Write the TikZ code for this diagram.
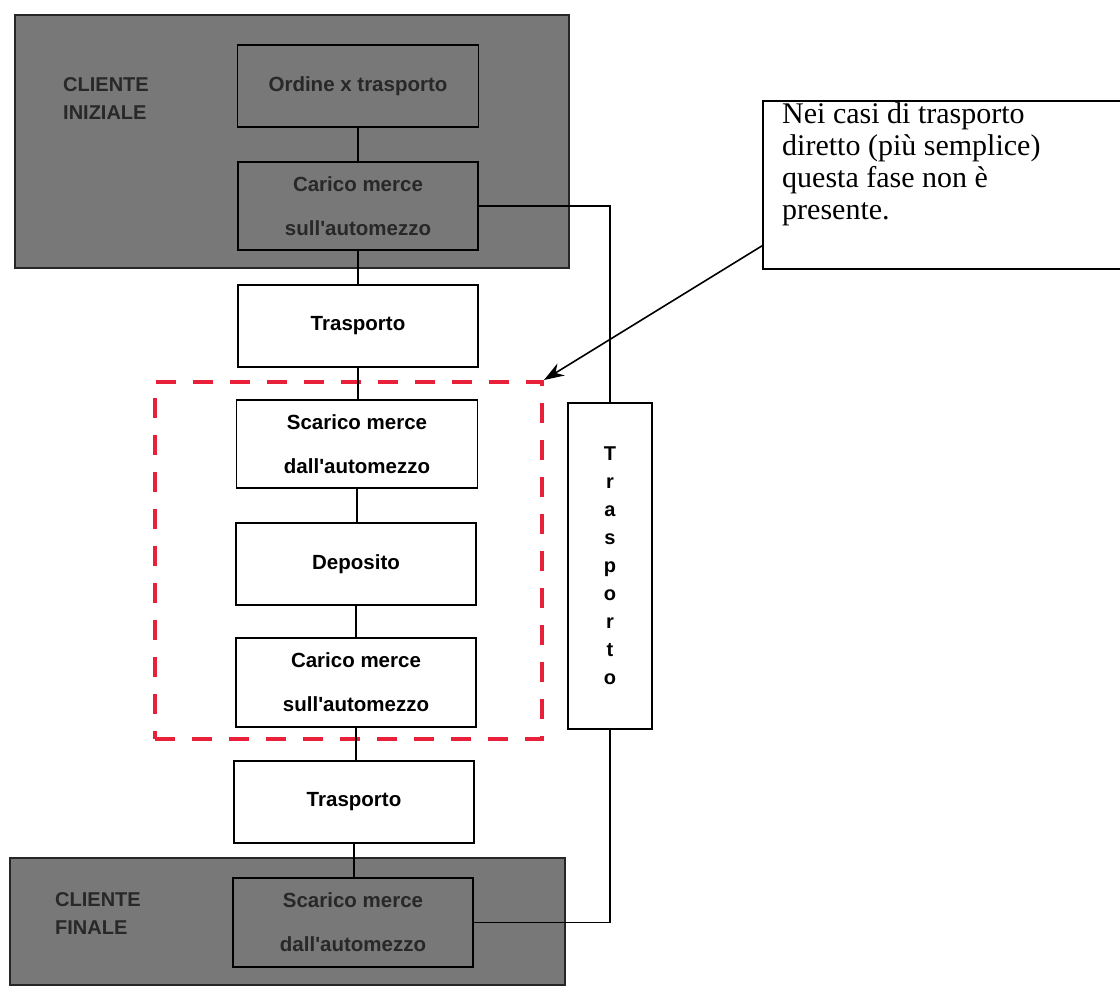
\documentclass[tikz,border=0pt]{standalone}
\usepackage{fontspec}
\setmainfont{Liberation Serif}
\newfontfamily\arialfont{Liberation Sans}
\usetikzlibrary{arrows.meta,calc}
\definecolor{shade}{RGB}{120,120,120}
\definecolor{shadetext}{RGB}{40,40,40}
\definecolor{dashred}{RGB}{232,32,58}
\begin{document}
\begin{tikzpicture}[x=1pt,y=-1pt,
  stepbox/.style={draw=black,line width=1.8pt,fill=white,rectangle,inner sep=0pt,
    font=\arialfont\bfseries\fontsize{20.5}{44}\selectfont,align=center},
  shadebox/.style={stepbox,fill=shade,text=shadetext},
  client/.style={draw=black!85,line width=2.6pt,fill=shade,rectangle,inner sep=0pt},
  clientlabel/.style={text=shadetext,font=\arialfont\bfseries\fontsize{20}{28}\selectfont,align=left,inner sep=0pt},
  link/.style={draw=black,line width=1.3pt}]
\useasboundingbox (0,0) rectangle (1120,994);
\fill[white] (0,0) rectangle (1120,994);

% initial client
\node[client,minimum width=554pt,minimum height=253pt] (gray1) at (292,141.5) {};
\node[clientlabel,anchor=west] (lab1) at (63,99) {CLIENTE\\INIZIALE};
\node[shadebox,minimum width=241pt,minimum height=82pt] (ordine) at (358,86) {Ordine x trasporto};
\node[shadebox,minimum width=240pt,minimum height=88pt] (carico1) at (358,206) {Carico merce\\sull'automezzo};

% chain
\node[stepbox,minimum width=240pt,minimum height=82pt] (t1) at (358,326) {Trasporto};
\node[stepbox,minimum width=241pt,minimum height=88pt] (scarico) at (357,444) {Scarico merce\\dall'automezzo};
\node[stepbox,minimum width=240pt,minimum height=82pt] (deposito) at (356,564) {Deposito};
\node[stepbox,minimum width=240pt,minimum height=89pt] (carico2) at (356,682.5) {Carico merce\\sull'automezzo};
\node[stepbox,minimum width=240pt,minimum height=82pt] (t2) at (354,802) {Trasporto};

% final client
\node[client,minimum width=555pt,minimum height=127pt] (gray2) at (287.5,921.5) {};
\node[clientlabel,anchor=west] (lab2) at (55,914) {CLIENTE\\FINALE};
\node[shadebox,minimum width=240pt,minimum height=89pt] (scarico2) at (353,922.5) {Scarico merce\\dall'automezzo};

% direct transport
\node[stepbox,minimum width=84pt,minimum height=326pt,font=\arialfont\bfseries\fontsize{20}{28}\selectfont] (vert) at (610,566) {T\\r\\a\\s\\p\\o\\r\\t\\o};

% dashed optional zone
\node[draw=dashred,line width=4pt,dash pattern=on 20pt off 17pt,rectangle,inner sep=0pt,
  minimum width=387pt,minimum height=357pt] (zone) at (348.5,560.5) {};

% callout
\node[draw=black,line width=1.6pt,fill=white,rectangle,anchor=north west,inner sep=0pt,
  minimum width=370pt,minimum height=168pt] (callout) at (762,100) {};
\node[anchor=north west,inner sep=0pt,align=left,
  font=\fontsize{30}{32}\selectfont] (note) at (782,102) {Nei casi di trasporto\\diretto (più semplice)\\questa fase non è\\presente.};

% connectors
\draw[link] (ordine.south) -- (ordine.south |- carico1.north);
\draw[link] (carico1.south) -- (carico1.south |- t1.north);
\draw[link] (t1.south) -- (t1.south |- scarico.north);
\draw[link] (scarico.south) -- (scarico.south |- deposito.north);
\draw[link] (deposito.south) -- (deposito.south |- carico2.north);
\draw[link] (carico2.south) -- (carico2.south |- t2.north);
\draw[link] (t2.south) -- (t2.south |- scarico2.north);
\draw[link] (carico1.east) -| (vert.north);
\draw[link] (vert.south) |- (scarico2.east);

\coordinate (cfrom) at ($(callout.north west)!0.86!(callout.south west)$);
\draw[line width=1.6pt,-{Stealth[length=20pt,width=14pt]}] (cfrom) -- (zone.north east);
\end{tikzpicture}
\end{document}
